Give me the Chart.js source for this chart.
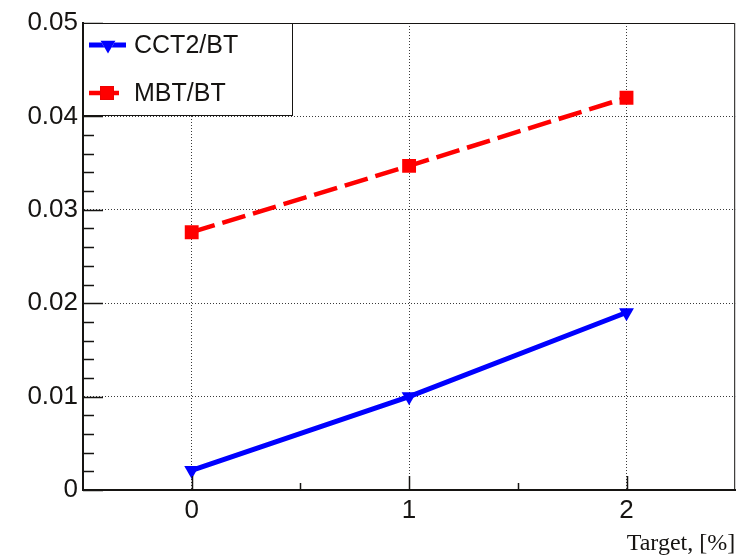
<!DOCTYPE html>
<html>
<head>
<meta charset="utf-8">
<title>CCT2/BT and MBT/BT vs Target</title>
<script src="https://cdn.jsdelivr.net/npm/chart.js@4"></script>
<style>
  html, body { margin: 0; padding: 0; background: #ffffff; }
  #wrap { width: 745px; height: 560px; }
</style>
</head>
<body>
<div id="wrap"><canvas id="c" width="745" height="560"></canvas></div>
<script>
// Target concentration, %
const targetPct = [0, 1, 2];

// Ratios to BT
const cct2Ratio = [0.0021, 0.0100, 0.0190];
const mbtRatio  = [0.0276, 0.0347, 0.0420];

const seriesNames = ['CCT2/BT', 'MBT/BT'];

// Axis ticks and their labels
const xTickValues = [0, 1, 2];
const xTickLabels = ['0', '1', '2'];
const yTickValues = [0, 0.01, 0.02, 0.03, 0.04, 0.05];
const yTickLabels = ['0', '0.01', '0.02', '0.03', '0.04', '0.05'];

const xTitle = 'Target, [%]';

const INK = '#161412';
const SANS = "'Liberation Sans', Arial, Helvetica, sans-serif";
const SERIF = "'Liberation Serif', 'Times New Roman', serif";

function toPoints(xs, ys) {
  return xs.map((x, i) => ({ x: x, y: ys[i] }));
}

// ROOT-style frame: inward major/minor tick marks, top/right frame lines
// and a boxed legend in the upper-left corner of the plot area.
const frameDecor = {
  id: 'frameDecor',
  afterDraw(chart) {
    const ctx = chart.ctx;
    const a = chart.chartArea;
    const xs = chart.scales.x;
    const ys = chart.scales.y;
    ctx.save();

    // top and right frame edges
    ctx.strokeStyle = INK;
    ctx.lineWidth = 1;
    ctx.beginPath();
    ctx.moveTo(a.left, a.top + 0.5);
    ctx.lineTo(a.right - 0.5, a.top + 0.5);
    ctx.lineTo(a.right - 0.5, a.bottom);
    ctx.stroke();

    // y-axis ticks (major every 0.01, minor every 0.002), pointing inward
    ctx.lineWidth = 1.5;
    ctx.beginPath();
    for (let k = 0; k <= 25; k++) {
      const v = k * 0.002;
      const py = Math.round(ys.getPixelForValue(v)) + 0.5;
      const len = (k % 5 === 0) ? 20 : 11;
      ctx.moveTo(a.left, py);
      ctx.lineTo(a.left + len, py);
    }
    // x-axis ticks (major every 1, minor every 0.5), pointing inward
    for (let k = -1; k <= 5; k++) {
      const v = k * 0.5;
      if (v <= xs.min || v >= xs.max) continue;
      const px = Math.round(xs.getPixelForValue(v)) + 0.5;
      const len = (k % 2 === 0) ? 14 : 7;
      ctx.moveTo(px, a.bottom);
      ctx.lineTo(px, a.bottom - len);
    }
    ctx.stroke();

    // legend box
    const box = { x: a.left + 0.5, y: a.top + 0.5, w: 209, h: 92 };
    ctx.fillStyle = '#ffffff';
    ctx.fillRect(box.x, box.y, box.w, box.h);
    ctx.strokeStyle = INK;
    ctx.lineWidth = 1;
    ctx.strokeRect(box.x, box.y, box.w, box.h);

    const rows = [
      { cy: a.top + 22, x0: a.left + 6, x1: a.left + 43, mx: a.left + 25 },
      { cy: a.top + 70, x0: a.left + 6, x1: a.left + 36, mx: a.left + 24 }
    ];
    chart.data.datasets.forEach((ds, i) => {
      const r = rows[i];
      ctx.strokeStyle = ds.borderColor;
      ctx.lineWidth = ds.borderWidth;
      ctx.setLineDash([]);
      ctx.beginPath();
      ctx.moveTo(r.x0, r.cy);
      ctx.lineTo(r.x1, r.cy);
      ctx.stroke();
      Chart.helpers.drawPoint(ctx, {
        pointStyle: ds.pointStyle,
        radius: ds.pointRadius,
        rotation: ds.pointRotation || 0,
        borderWidth: 0
      }, r.mx, r.cy);
      ctx.fillStyle = ds.pointBackgroundColor;
      ctx.fill();
      ctx.fillStyle = INK;
      ctx.font = '25px ' + SANS;
      ctx.textAlign = 'left';
      ctx.textBaseline = 'middle';
      ctx.fillText(ds.label, a.left + 51, r.cy + 1);
    });

    ctx.restore();
  }
};

const chart = new Chart(document.getElementById('c'), {
  type: 'line',
  data: {
    datasets: [
      {
        label: seriesNames[0],
        data: toPoints(targetPct, cct2Ratio),
        borderColor: '#0000ff',
        backgroundColor: '#0000ff',
        pointBackgroundColor: '#0000ff',
        pointBorderColor: '#0000ff',
        borderWidth: 5,
        pointStyle: 'triangle',
        pointRotation: 180,
        pointRadius: 8.6,
        pointBorderWidth: 0,
        tension: 0,
        fill: false
      },
      {
        label: seriesNames[1],
        data: toPoints(targetPct, mbtRatio),
        borderColor: '#ff0000',
        backgroundColor: '#ff0000',
        pointBackgroundColor: '#ff0000',
        pointBorderColor: '#ff0000',
        borderWidth: 4.5,
        borderDash: [24, 8],
        pointStyle: 'rect',
        pointRadius: 9.8,
        pointBorderWidth: 0,
        tension: 0,
        fill: false
      }
    ]
  },
  options: {
    responsive: false,
    devicePixelRatio: 1,
    animation: false,
    events: [],
    layout: { padding: { top: 23, right: 5, left: 0, bottom: 0 } },
    plugins: {
      legend: { display: false },
      tooltip: { enabled: false },
      title: { display: false }
    },
    scales: {
      x: {
        type: 'linear',
        min: -0.5,
        max: 2.5,
        afterBuildTicks: (scale) => { scale.ticks = xTickValues.map(v => ({ value: v })); },
        afterFit: (scale) => { scale.height = 70; },
        ticks: {
          autoSkip: false,
          maxRotation: 0,
          padding: 5,
          color: INK,
          font: { family: SANS, size: 26 },
          callback: (v, i) => xTickLabels[i]
        },
        grid: { color: '#3a3a3a', lineWidth: 1, drawTicks: false },
        border: { display: true, color: INK, width: 2, dash: [1, 2] },
        title: {
          display: true,
          text: xTitle,
          align: 'end',
          color: INK,
          font: { family: SERIF, size: 24 },
          padding: { top: 0, bottom: 2 }
        }
      },
      y: {
        type: 'linear',
        min: 0,
        max: 0.05,
        afterBuildTicks: (scale) => { scale.ticks = yTickValues.map(v => ({ value: v })); },
        afterFit: (scale) => { scale.width = 83; },
        ticks: {
          padding: 5,
          color: INK,
          font: { family: SANS, size: 26 },
          callback: (v, i) => yTickLabels[i]
        },
        grid: { color: '#3a3a3a', lineWidth: 1, drawTicks: false },
        border: { display: true, color: INK, width: 2, dash: [1, 2] }
      }
    }
  },
  plugins: [frameDecor]
});
</script>
</body>
</html>
